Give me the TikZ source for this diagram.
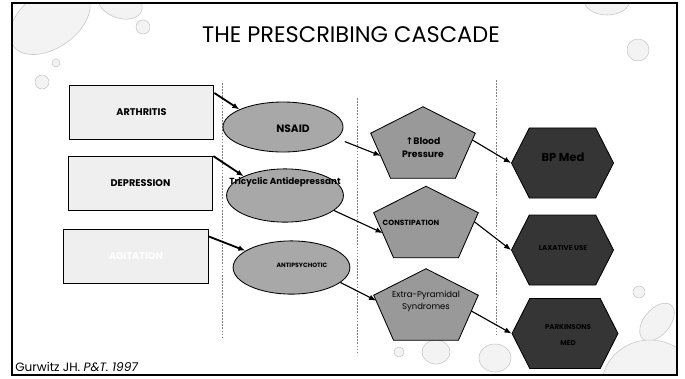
\documentclass[tikz,border=0pt]{standalone}
\usepackage{fontspec}
\setmainfont{Poppins}
\newfontfamily\symfont{DejaVu Sans}
\usetikzlibrary{shapes.geometric,shapes.symbols,arrows.meta,calc}

\definecolor{boxgray}{HTML}{EFEFEF}
\definecolor{ellgray}{HTML}{A8A8A8}
\definecolor{pentgray}{HTML}{999999}
\definecolor{hexgray}{HTML}{353535}
\definecolor{dropgray}{HTML}{F3F3F3}

\begin{document}
\begin{tikzpicture}[x=0.025cm, y=-0.025cm,
  causebox/.style={draw, fill=boxgray, line width=0.6pt, minimum width=3.62cm, minimum height=1.35cm, inner sep=0pt, font=\bfseries\fontsize{6.9}{8}\selectfont},
  drugpill/.style={ellipse, draw, fill=ellgray, line width=0.6pt, minimum width=2.92cm, minimum height=1.33cm, inner sep=0pt},
  effectbox/.style={minimum width=2.6cm, minimum height=1.775cm, inner sep=0pt},
  medhex/.style={signal, signal to=west and east, signal pointer angle=126, draw, fill=hexgray, line width=0.6pt, minimum width=2.55cm, minimum height=1.75cm, inner sep=0pt},
  boldtxt/.style={inner sep=0pt, font=\bfseries\fontsize{6.3}{7}\selectfont},
  smalltxt/.style={inner sep=0pt, font=\bfseries\fontsize{5}{6}\selectfont},
  feed/.style={-{Latex[length=5pt,width=4pt]}, line width=1.3pt},
  cause/.style={-{Latex[length=5pt,width=4pt]}, line width=0.8pt},
  sep/.style={gray, line width=0.4pt, dash pattern=on 1.2pt off 1pt},
  drop/.style={fill=dropgray, draw=gray!45, line width=0.4pt}]
  \useasboundingbox (0,0) rectangle (685,378);

  % water drops
  \begin{scope}
    \clip (12,3) rectangle (677,375);
    \draw[drop, rotate around={35:(50,20)}] (50,20) ellipse [x radius=45, y radius=28];
    \draw[drop, rotate around={-20:(120,3)}] (120,3) ellipse [x radius=23, y radius=15];
    \draw[drop] (143,27) circle (7);
    \draw[drop] (56,63) circle (4);
    \draw[drop] (42,82) circle (7);
    \draw[drop] (607,0) ellipse [x radius=23, y radius=15];
    \draw[drop] (638,50) circle (11);
    \draw[drop] (639,292) circle (6);
    \draw[drop, rotate around={50:(657,322)}] (657,322) ellipse [x radius=22, y radius=13];
    \draw[drop] (650,385) ellipse [x radius=48, y radius=45];
    \draw[drop] (399,352) circle (5);
    \draw[drop] (436,352) ellipse [x radius=14, y radius=12];
    \draw[drop] (495,358) ellipse [x radius=16, y radius=14];
  \end{scope}

  \node (title) at (351,35) {\fontsize{16}{18}\selectfont THE PRESCRIBING CASCADE};

  % columns
  \draw[sep] (222,83) -- (222,338);
  \draw[sep] (357,98) -- (357,352);
  \draw[sep] (496,80) -- (496,335);

  % conditions
  \node[causebox] (arth) at (141.5,112.5) {ARTHRITIS};
  \node[causebox] (dep) at (140.5,183.5) {DEPRESSION};
  \node[causebox, text=white] (agit) at (136,256) {AGITATION};

  % drugs
  \node[drugpill, minimum width=3cm, minimum height=1.25cm] (nsaid) at (283,127) {};
  \node[drugpill] (tri) at (285,195.5) {};
  \node[drugpill] (anti) at (291.5,267.5) {};

  % side effects
  \node[effectbox] (bp) at (423,142.5) {};
  \node[effectbox] (con) at (426,222) {};
  \node[effectbox] (eps) at (426,304.5) {};
  \foreach \p/\fin/\fout in {bp/0.5/0.15, con/0.45/0.2, eps/0.12/0.35}{
    \coordinate (\p-ls) at ($(\p.north west)!0.37!(\p.south west)$);
    \coordinate (\p-rs) at ($(\p.north east)!0.37!(\p.south east)$);
    \coordinate (\p-bl) at ($(\p.south)!0.62!(\p.south west)$);
    \coordinate (\p-br) at ($(\p.south)!0.62!(\p.south east)$);
    \filldraw[fill=pentgray, line width=0.6pt] (\p.north) -- (\p-rs) -- (\p-br) -- (\p-bl) -- (\p-ls) -- cycle;
    \coordinate (\p-in) at ($(\p-ls)!\fin!(\p-bl)$);
    \coordinate (\p-out) at ($(\p-rs)!\fout!(\p-br)$);
  }

  % prescriptions
  \node[medhex] (bpmed) at (562.5,163) {};
  \node[medhex] (lax) at (562.5,250) {};
  \node[medhex, minimum width=2.65cm] (park) at (565,333.5) {};

  % texts
  \node[boldtxt, font=\bfseries\fontsize{7.6}{8}\selectfont] (nsaidtxt) at (293,129) {NSAID};
  \node[boldtxt] (tritxt) at (285,182) {Tricyclic Antidepressant};
  \node[smalltxt, font=\bfseries\fontsize{4.4}{5}\selectfont] (antitxt) at (302,265) {ANTIPSYCHOTIC};
  \node[boldtxt, font=\bfseries\fontsize{6.6}{7}\selectfont] (bptxt) at (423,141) {{\symfont\bfseries ↑}Blood};
  \node[boldtxt, font=\bfseries\fontsize{6.6}{7}\selectfont] (bptxt2) at (423,154) {Pressure};
  \node[smalltxt, font=\bfseries\fontsize{5.3}{6}\selectfont] (contxt) at (411,223) {CONSTIPATION};
  \node[inner sep=0pt, font=\fontsize{6}{7}\selectfont] (epstxt) at (426,295) {Extra-Pyramidal};
  \node[inner sep=0pt, font=\fontsize{6}{7}\selectfont] (epstxt2) at (426,307) {Syndromes};
  \node[inner sep=0pt, font=\bfseries\fontsize{8.2}{9}\selectfont] (bpmedtxt) at (563,157) {BP Med};
  \node[smalltxt] (laxtxt) at (563,248) {LAXATIVE USE};
  \node[smalltxt] (parktxt) at (568,327) {PARKINSONS};
  \node[smalltxt] (parktxt2) at (568,343) {MED};

  % cascade
  \draw[feed] (arth.15) -- (nsaid.158);
  \draw[feed] (dep.north east) -- (tri.155);
  \draw[feed] (agit.15) -- (anti.160);
  \draw[cause, shorten <=6pt] (nsaid.-12) -- (bp-in);
  \draw[cause] (tri.-17) -- (con-in);
  \draw[cause] (anti.-17) -- (eps-in);
  \draw[cause] (bp-out) -- (bpmed.west);
  \draw[cause] (con-out) -- (lax.west);
  \draw[cause] (eps-out) -- (park.west);

  \node[anchor=west, inner sep=0pt, font=\fontsize{8.6}{9}\selectfont] (cite) at (15,367) {Gurwitz JH. \textit{P\&T. 1997}};
  \draw[line width=1.8pt] (12,3) rectangle (677,375);
\end{tikzpicture}
\end{document}
